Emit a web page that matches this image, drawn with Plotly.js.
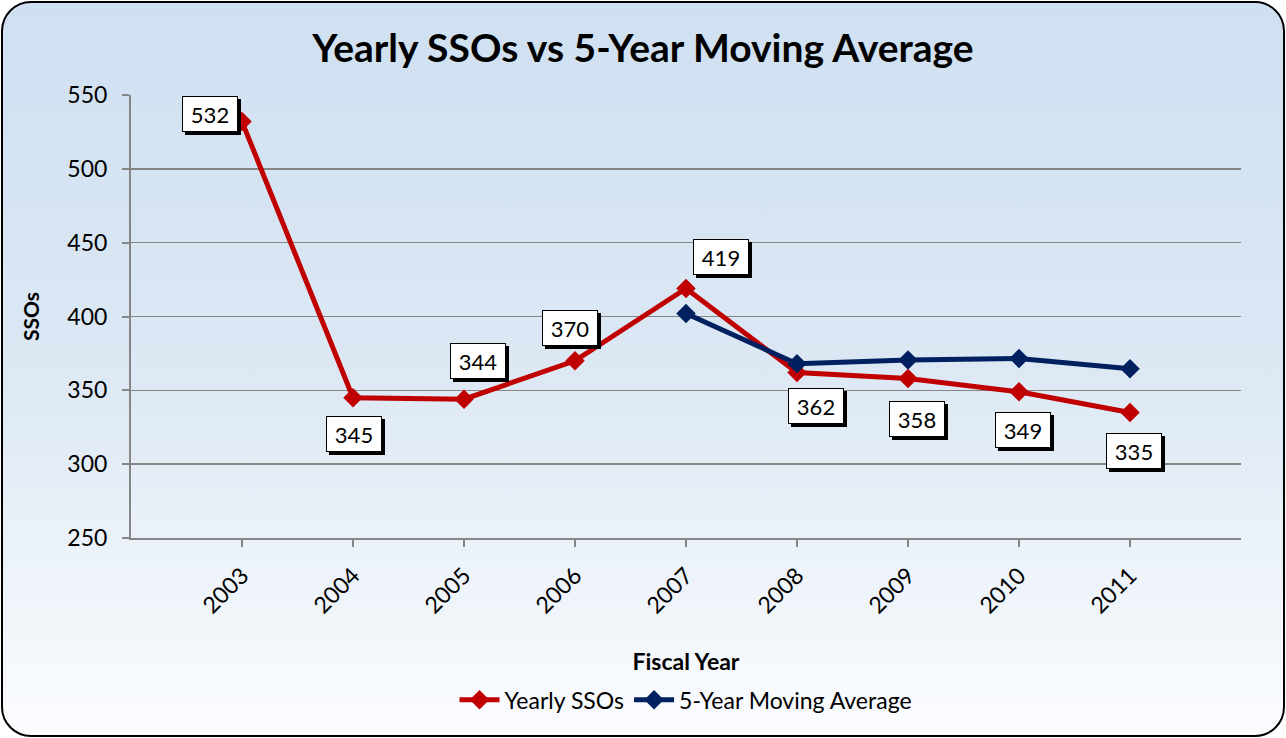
<!DOCTYPE html>
<html>
<head>
<meta charset="utf-8">
<script src="https://cdn.plot.ly/plotly-3.0.1.min.js"></script>
<style>
html,body{margin:0;padding:0;width:1286px;height:738px;overflow:hidden;background:#fff;}
#frame{position:absolute;left:1px;top:1px;width:1280px;height:732px;border:2px solid #000;border-radius:30px;
background:linear-gradient(to bottom,#cfe0f1 0%,#dce8f4 50%,#fbfcfe 100%);}
#chart{position:absolute;left:0;top:0;width:1286px;height:738px;}
</style>
</head>
<body>
<div id="frame"></div>
<div id="chart"></div>
<script>
const years = [2003, 2004, 2005, 2006, 2007, 2008, 2009, 2010, 2011];
const yearlySSOs = [532, 345, 344, 370, 419, 362, 358, 349, 335];
const maYears = [2007, 2008, 2009, 2010, 2011];
const movingAvg = [402, 368, 370.6, 371.6, 364.6];
const tickLabels = ['2003','2004','2005','2006','2007','2008','2009','2010','2011'];
const labelOffsets = [[-32,-8],[1,36],[14,-38],[-5,-33],[35,-31],[19,33],[9,40],[4,38],[4,39]];

const FONT = 'Lato, "Open Sans", sans-serif';

const traces = [
  {x: years, y: yearlySSOs, name: 'Yearly SSOs', type: 'scatter', mode: 'lines+markers',
   line: {color: '#c00000', width: 5}, marker: {symbol: 'diamond', size: 15, color: '#c00000'}},
  {x: maYears, y: movingAvg, name: '5-Year Moving Average', type: 'scatter', mode: 'lines+markers',
   line: {color: '#002060', width: 5}, marker: {symbol: 'diamond', size: 15, color: '#002060'}}
];

const annotations = [];
years.forEach((yr, i) => {
  const [ax, ay] = labelOffsets[i];
  // drop shadow box (no text)
  annotations.push({x: yr, y: yearlySSOs[i], xref: 'x', yref: 'y', text: ' ',
    showarrow: true, arrowcolor: 'rgba(0,0,0,0)', ax: ax + 3, ay: ay + 3,
    width: 50, height: 30, bgcolor: '#000', bordercolor: '#000', borderwidth: 1, borderpad: 2});
  annotations.push({x: yr, y: yearlySSOs[i], xref: 'x', yref: 'y', text: String(yearlySSOs[i]),
    showarrow: true, arrowcolor: 'rgba(0,0,0,0)', ax: ax, ay: ay,
    width: 50, height: 30,
    font: {family: FONT, size: 22, color: '#000'}, bgcolor: '#fff', bordercolor: '#000', borderwidth: 1, borderpad: 2});
});

const layout = {
  width: 1286, height: 738,
  paper_bgcolor: 'rgba(0,0,0,0)', plot_bgcolor: 'rgba(0,0,0,0)',
  margin: {l: 131, r: 45, t: 95, b: 200},
  font: {family: FONT, color: '#000'},
  title: {text: '<b>Yearly SSOs vs 5-Year Moving Average</b>', x: 0.5, xanchor: 'center', y: 0.935, yanchor: 'middle',
    font: {family: FONT, size: 39, color: '#000'}},
  xaxis: {range: [2002, 2012], tickmode: 'array', tickvals: years, ticktext: tickLabels, tickangle: -45,
    showgrid: false, zeroline: false, showline: true, linecolor: '#868686', linewidth: 2,
    ticks: 'outside', ticklen: 7, tickcolor: '#868686', tickwidth: 2, ticklabelstandoff: 6,
    tickfont: {family: FONT, size: 23, color: '#000'},
    title: {text: '<b>Fiscal Year</b>', font: {family: FONT, size: 23, color: '#000'}, standoff: 36}},
  yaxis: {range: [250, 550], tickvals: [250, 300, 350, 400, 450, 500, 550],
    showgrid: true, gridcolor: '#868686', gridwidth: 1.5, zeroline: false,
    showline: true, linecolor: '#868686', linewidth: 2,
    ticks: 'outside', ticklen: 7, tickcolor: '#868686', tickwidth: 2, ticklabelstandoff: 10,
    tickfont: {family: FONT, size: 23, color: '#000'},
    title: {text: '<b>SSOs</b>', font: {family: FONT, size: 21, color: '#000'}, standoff: 22}},
  legend: {orientation: 'h', x: 0.5, xanchor: 'center', y: -0.365, yanchor: 'middle',
    font: {family: FONT, size: 23, color: '#000'}, bgcolor: 'rgba(0,0,0,0)', itemwidth: 40},
  annotations: annotations,
  showlegend: true
};

Plotly.newPlot('chart', traces, layout, {displayModeBar: false, staticPlot: true});
</script>
</body>
</html>
